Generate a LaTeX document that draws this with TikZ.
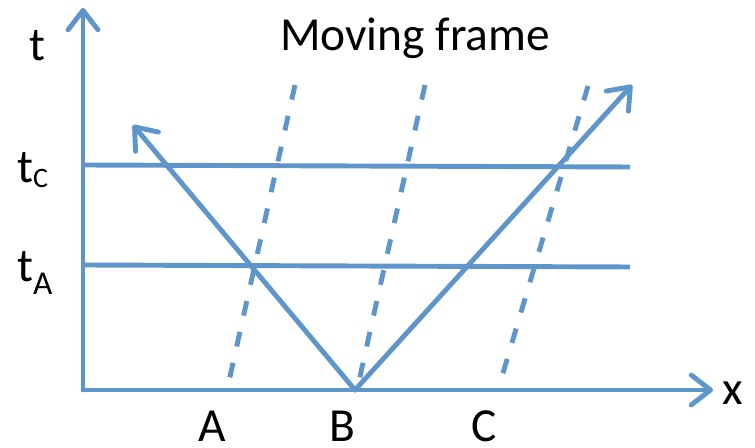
\documentclass[tikz,border=0pt]{standalone}
\usepackage{fontspec}
\setmainfont{Carlito}
\usepackage{tikz}
\usetikzlibrary{arrows.meta,positioning,calc}
\definecolor{figBlue}{HTML}{5E96CB}

\begin{document}
\begin{tikzpicture}[
  x=0.02cm, y=-0.02cm,
  every node/.style={font=\fontsize{27}{32}\selectfont, text=black, inner sep=0pt},
  arr/.style={-{Straight Barb[length=11pt,width=17pt,round]}, line width=2.8pt, line cap=round, figBlue},
  timeline/.style={line width=2.8pt, figBlue},
  world/.style={line width=2.8pt, figBlue, dash pattern=on 8.5pt off 9.5pt},
  lbl/.style={anchor=base west},
]
\useasboundingbox (0,0) rectangle (755,448);

% === Axes ===
\coordinate (O) at (83,390);
\coordinate (ttip) at (83,8);
\coordinate (xtip) at (713,390);
\draw[arr] (O) -- (ttip);
\draw[arr] (O) -- (xtip);
\node (tlab) at (37,46) {t};
\node (xlab) at (733,393) {x};

% === Simultaneity lines ===
\coordinate (tCl) at (83,165);
\coordinate (tCr) at (630,167);
\coordinate (tAl) at (83,265);
\coordinate (tAr) at (630,267);
\draw[timeline] (tCl) -- (tCr);
\draw[timeline] (tAl) -- (tAr);
\node[lbl] (tC) at (17,183) {t\raisebox{-2.3pt}{\fontsize{16}{18}\selectfont C}};
\node[lbl] (tA) at (17,282) {t\raisebox{-7pt}{\fontsize{19}{22}\selectfont A}};

% === Moving frame world lines ===
\coordinate (Abot) at (227,390);
\coordinate (Atop) at (295,85);
\coordinate (Bbot) at (357,390);
\coordinate (Btop) at (425,85);
\coordinate (Cbot) at (498,390);
\coordinate (Ctop) at (588,86);
\draw[world] (Atop) -- (Abot);
\draw[world] (Btop) -- (Bbot);
\draw[world] (Ctop) -- (Cbot);
\node (moving) at (415,38) {Moving frame};

% === Light rays from B ===
\coordinate (B) at (355,390);
\coordinate (leftTip) at (133,125);
\coordinate (rightTip) at (632,85);
\draw[arr] (B) -- (leftTip);
\draw[arr] (B) -- (rightTip);

% Axis labels
\node (A) at (212,426) {A};
\node (Blab) at (342,426) {B};
\node (C) at (484,426) {C};

\end{tikzpicture}
\end{document}
